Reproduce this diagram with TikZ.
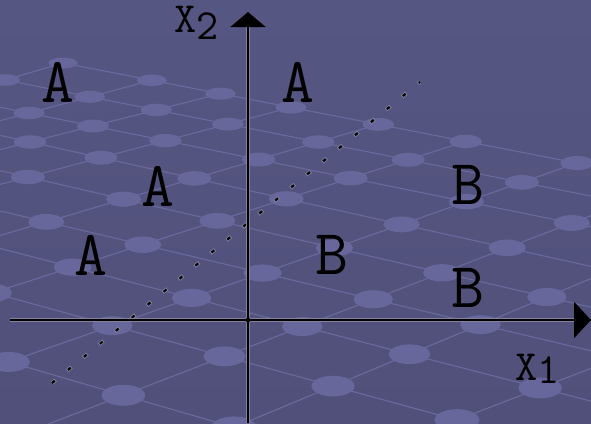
\documentclass[tikz,border=0pt]{standalone}
\usetikzlibrary{arrows.meta,calc}
\definecolor{bgtop}{RGB}{86,86,131}
\definecolor{bgbot}{RGB}{80,80,122}
\definecolor{gridc}{RGB}{106,106,158}
\definecolor{dotc}{RGB}{103,103,156}
\definecolor{haloc}{RGB}{130,130,158}
\begin{document}
\begin{tikzpicture}[x=1pt,y=-1pt,
  gridline/.style={draw=gridc,line width=1.1pt},
  dotfill/.style={fill=dotc},
  axisline/.style={line width=1.8pt,draw=black},
  axishalo/.style={line width=3.6pt,draw=haloc},
  dashline/.style={line width=2.2pt,draw=black,dash pattern=on 3.6pt off 17pt},
  dashhalo/.style={line width=3.8pt,draw=haloc,dash pattern=on 5.6pt off 15pt,dash phase=1pt},
  letter/.style={font=\fontsize{64}{64}\selectfont\ttfamily,inner sep=0pt,text=black},
  axlabel/.style={font=\fontsize{43}{43}\selectfont\ttfamily,inner sep=0pt,anchor=base west,text=black},
]
\shade[top color=bgtop,bottom color=bgbot] (0,0) rectangle (591,423);
\useasboundingbox (0,0) rectangle (591,423);
\begin{scope}
\clip (0,0) rectangle (591,423);
% b-lines (constant u)
\coordinate (bs0) at (63,63);   \coordinate (be0) at (-169,131);
\coordinate (bs1) at (153,80);  \coordinate (be1) at (-159,163);
\coordinate (bs2) at (223,93);  \coordinate (be2) at (-163,191);
\coordinate (bs3) at (300,105); \coordinate (be3) at (-176,231);
\coordinate (bs4) at (383,123); \coordinate (be4) at (-155,281);
\coordinate (bs5) at (470,140); \coordinate (be5) at (-127,331);
\coordinate (bs6) at (577,163); \coordinate (be6) at (-83,394);
\coordinate (bs7) at (720,166); \coordinate (be7) at (-27,453);
\coordinate (bs8) at (854,169); \coordinate (be8) at (86,489);
\coordinate (bs9) at (872,260); \coordinate (be9) at (291,484);
% a-lines (constant v)
\coordinate (as0) at (63,63);    \coordinate (ae0) at (700,187);
\coordinate (as1) at (5,80);     \coordinate (ae1) at (700,217.6);
\coordinate (as2) at (-60,95);   \coordinate (ae2) at (700,249);
\coordinate (as3) at (-60,122);  \coordinate (ae3) at (700,290.6);
\coordinate (as4) at (-60,156.7);\coordinate (ae4) at (700,332.4);
\coordinate (as5) at (-60,196.7);\coordinate (ae5) at (700,376.6);
\coordinate (as6) at (-60,232.9);\coordinate (ae6) at (700,429.3);
\coordinate (as7) at (-60,278.5);\coordinate (ae7) at (700,486.5);
\coordinate (as8) at (-60,342);  \coordinate (ae8) at (700,562.6);
\foreach \i in {0,...,9}{\draw[gridline] (bs\i) -- (be\i);}
\foreach \j in {0,...,8}{\draw[gridline] (as\j) -- (ae\j);}
\foreach \i in {0,...,9}{
  \foreach \j in {0,...,8}{
    \coordinate (gp) at (intersection cs: first line={(bs\i)--(be\i)}, second line={(as\j)--(ae\j)});
    \path let \p1=(gp), \n1={abs(\y1)} in
      [dotfill] (gp) ellipse [x radius={(14.5+(\n1-63)*0.022)*1pt}, y radius={(5.5+(\n1-63)*0.015)*1pt}];
  }
}
\end{scope}
% dashed separating line
\coordinate (d1) at (52,383);
\coordinate (d2) at (420,82);
\draw[dashhalo] (d1) -- (d2);
\draw[dashline] (d1) -- (d2);
% axes
\coordinate (yb) at (248,423);
\coordinate (yt) at (248,12);
\coordinate (xl) at (10,320);
\coordinate (xr) at (591,320);
\draw[axishalo] (yb) -- (248,26);
\draw[axishalo] (xl) -- (575,320);
\draw[axisline,-{Triangle[length=15pt,width=35pt]}] (yb) -- (yt);
\draw[axisline,-{Triangle[length=17pt,width=36pt]}] (xl) -- (xr);
\fill[black] (248,320) circle (2.4pt);
% labels
\node[axlabel] (x2) at (174,32) {X\raisebox{-7pt}{2}};
\node[axlabel] (x1) at (515,380) {X\raisebox{-3pt}{1}};
\node[letter] (A1) at (58,82) {A};
\node[letter] (A2) at (298,82) {A};
\node[letter] (A3) at (158,186) {A};
\node[letter] (A4) at (91,255) {A};
\node[letter] (B1) at (468,185) {B};
\node[letter] (B2) at (332,255) {B};
\node[letter] (B3) at (468,288) {B};
\end{tikzpicture}
\end{document}
